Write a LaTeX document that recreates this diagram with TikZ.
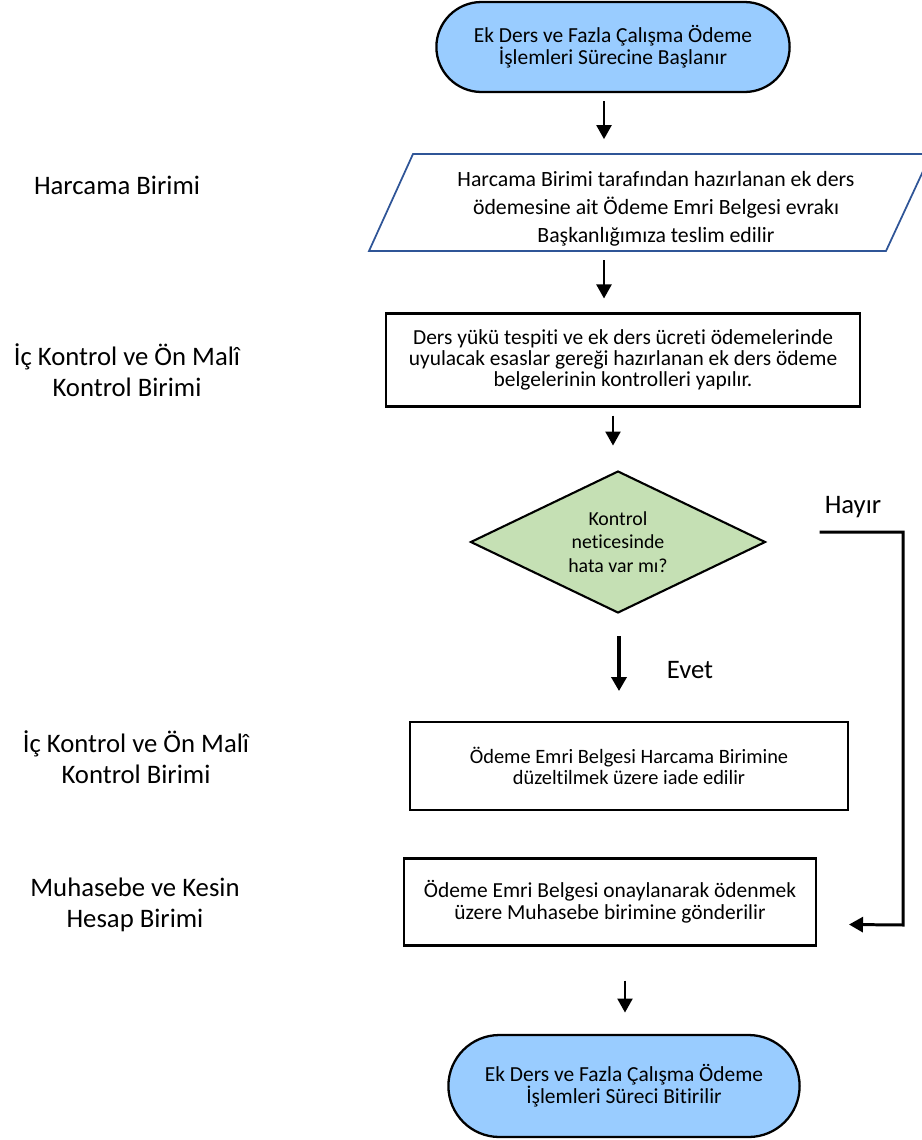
\documentclass[tikz,border=0pt]{standalone}
\usepackage{fontspec}
\setmainfont[Ligatures=NoCommon]{Carlito}
\usetikzlibrary{arrows.meta,shapes.misc,shapes.geometric}
\definecolor{termblue}{HTML}{99CCFF}
\definecolor{decgreen}{HTML}{C5E0B4}
\definecolor{parablue}{HTML}{2F5597}

\begin{document}
\begin{tikzpicture}[x=0.02cm, y=-0.02cm,
		terminal/.style={rounded rectangle, draw, line width=1.3pt, fill=termblue, align=center},
		box/.style={rectangle, draw, line width=1.2pt, align=center},
		lane/.style={align=center, font=\fontsize{15.2}{17.6}\selectfont},
		arr/.style={-{Triangle[length=0.28cm,width=0.3cm]}, line width=1.3pt}]
		\useasboundingbox (0,0) rectangle (921,1140);
		
		% Start
		\node[terminal, minimum width=7.3cm, minimum height=1.8cm, font=\fontsize{12.2}{12.6}\selectfont] (start) at (613,47)
			{Ek Ders ve Fazla Çalışma Ödeme\\İşlemleri Sürecine Başlanır};
		
		% Document delivery
		\draw[parablue, line width=1pt] (413,154) -- (931,154) -- (886,251) -- (369,251) -- cycle;
		\node[align=center, font=\fontsize{12.4}{15.9}\selectfont] (para) at (656,209)
			{Harcama Birimi tarafından hazırlanan ek ders\\ödemesine ait Ödeme Emri Belgesi evrakı\\Başkanlığımıza teslim edilir};
		
		% Control step
		\node[box, minimum width=9.48cm, minimum height=1.86cm, font=\fontsize{12.2}{11.9}\selectfont] (check) at (623,360)
			{Ders yükü tespiti ve ek ders ücreti ödemelerinde\\uyulacak esaslar gereği hazırlanan ek ders ödeme\\belgelerinin kontrolleri yapılır.};
		
		% Decision
		\node[diamond, draw, line width=1.2pt, fill=decgreen, aspect=2, inner sep=0pt,
			minimum width=5.9cm, minimum height=2.84cm, align=center, font=\fontsize{11.3}{13.3}\selectfont] (dec) at (618,542)
			{Kontrol\\neticesinde\\hata var mı?};
		
		% Return and send
		\node[box, minimum width=8.76cm, minimum height=1.76cm, font=\fontsize{11.6}{11.6}\selectfont] (ret) at (629,766)
			{Ödeme Emri Belgesi Harcama Birimine\\düzeltilmek üzere iade edilir};
		\node[box, minimum width=8.24cm, minimum height=1.74cm, font=\fontsize{12.2}{12.5}\selectfont] (send) at (610,902)
			{Ödeme Emri Belgesi onaylanarak ödenmek\\üzere Muhasebe birimine gönderilir};
		
		% End
		\node[terminal, minimum width=7.26cm, minimum height=2.04cm, font=\fontsize{12.2}{12.5}\selectfont] (stop) at (624,1086)
			{Ek Ders ve Fazla Çalışma Ödeme\\İşlemleri Süreci Bitirilir};
		
		% Units
		\node[lane] (unit1) at (117,185) {Harcama Birimi};
		\node[lane] (unit2) at (127,370) {İç Kontrol ve Ön Malî\\Kontrol Birimi};
		\node[lane] (unit3) at (136,757) {İç Kontrol ve Ön Malî\\Kontrol Birimi};
		\node[lane] (unit4) at (135,905) {Muhasebe ve Kesin\\Hesap Birimi};
		
		% Arrows
		\draw[arr] ([xshift=-0.18cm, yshift=-0.16cm]start.south) -- ++(0,38);
		\draw[arr] ([xshift=-0.38cm, yshift=1.04cm]check.north) -- ++(0,38);
		\draw[arr] ([xshift=-0.2cm, yshift=-0.16cm]check.south) -- ++(0,30);
		\draw[arr, line width=2.2pt] ([xshift=0.02cm, yshift=-0.44cm]dec.south) -- ++(0,55);
		\draw[arr] ([xshift=0.3cm, yshift=-0.68cm]send.south) -- ++(0,32);
		
		% No branch
		\coordinate (turn) at (903,925);
		\draw[arr, line width=1.7pt] ([xshift=1.06cm, yshift=0.2cm]dec.east) -| (turn) -- ([xshift=0.64cm, yshift=-0.45cm]send.east);
		
		% Branch labels
		\node[lane] (yes) at (690,670) {Evet};
		\node[lane] (no) at (853,507) {Hayır};
	\end{tikzpicture}
\end{document}
